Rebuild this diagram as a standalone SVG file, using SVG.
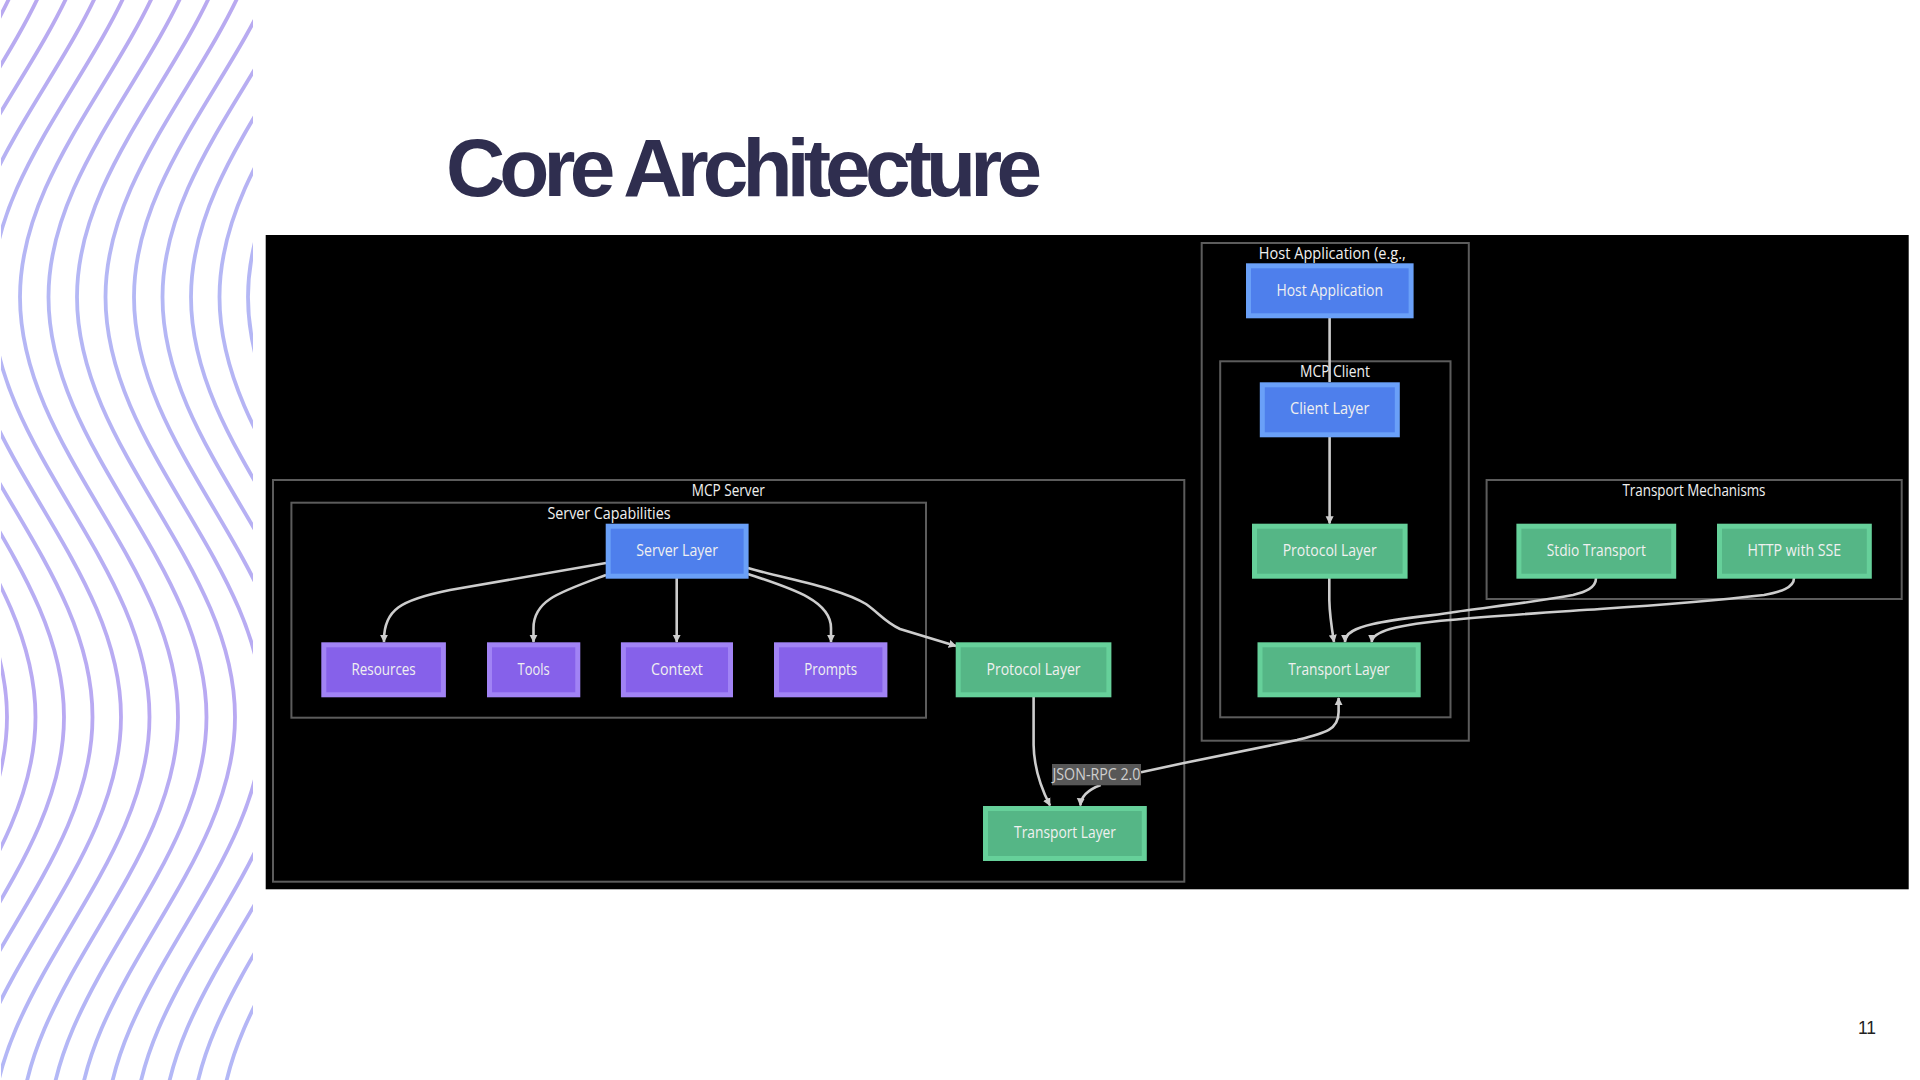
<svg xmlns="http://www.w3.org/2000/svg" xmlns:xlink="http://www.w3.org/1999/xlink" width="1920" height="1080" viewBox="0 0 1920 1080">
<style>
text{font-family:"Open Sans","Noto Sans","DejaVu Sans",sans-serif;font-size:16px;font-weight:500;fill:#f0f0f0;text-anchor:middle}
.frame{fill:none;stroke:#5c5c5c;stroke-width:2}
.edge{fill:none;stroke:#cdcdcd;stroke-width:2.6}
.arrow{marker-end:url(#ah)}
.blue{fill:#4e7fec;stroke:#6aa0f8;stroke-width:5}
.purple{fill:#8661ea;stroke:#a183f5;stroke-width:5}
.green{fill:#55b686;stroke:#66d09a;stroke-width:5}
</style>
<defs>
<linearGradient id="wg" gradientUnits="userSpaceOnUse" x1="0" y1="0" x2="0" y2="1080">
<stop offset="0" stop-color="#b9a9f0"/><stop offset="0.27" stop-color="#b4b8f5"/><stop offset="0.66" stop-color="#b9a9f2"/><stop offset="1" stop-color="#b3b8f6"/>
</linearGradient>
<clipPath id="wc"><rect x="1" y="0" width="252" height="1080"/></clipPath>
<path id="w" fill="none" stroke="url(#wg)" stroke-width="3.8" d="M163 -123C163 30 0 144 0 297C0 450 158 564 158 717C158 870 0 984 0 1137"/>
<marker id="ah" markerUnits="userSpaceOnUse" viewBox="0 0 10 10" refX="9" refY="5" markerWidth="8" markerHeight="9" orient="auto"><path d="M0 0L10 5L0 10Z" fill="#cdcdcd"/></marker>
</defs>
<rect width="1920" height="1080" fill="#fff"/>
<g id="waves" clip-path="url(#wc)">
<use href="#w" x="-151"/><use href="#w" x="-122.5"/><use href="#w" x="-94"/><use href="#w" x="-65.5"/><use href="#w" x="-37"/><use href="#w" x="-8.5"/><use href="#w" x="20"/><use href="#w" x="48.5"/><use href="#w" x="77"/><use href="#w" x="105.5"/><use href="#w" x="134"/><use href="#w" x="162.5"/><use href="#w" x="191"/><use href="#w" x="219.5"/><use href="#w" x="248"/>
</g>
<text id="title" x="446" y="196" style="font-family:'Liberation Sans',Arial,sans-serif;font-weight:700;font-size:82px;fill:#2f2e4f;text-anchor:start;letter-spacing:-5.85px">Core Architecture</text>
<text id="page" x="1867" y="1034" style="font-family:'Liberation Sans',Arial,sans-serif;font-size:17.5px;font-weight:400;fill:#222">11</text>
<rect id="canvas" x="265.7" y="235" width="1643" height="654.3" fill="#000"/>
<g id="frames">
<rect class="frame" x="273" y="480" width="911.3" height="401.7"/>
<rect class="frame" x="291.4" y="502.7" width="634.6" height="215"/>
<rect class="frame" x="1201.7" y="243" width="267.1" height="497.7"/>
<rect class="frame" x="1220.2" y="361.3" width="230.3" height="356"/>
<rect class="frame" x="1486.6" y="480" width="415.1" height="119"/>
<text x="728.3" y="496" textLength="73" lengthAdjust="spacingAndGlyphs">MCP Server</text>
<text x="609" y="519" textLength="123" lengthAdjust="spacingAndGlyphs">Server Capabilities</text>
<text x="1332.3" y="259" textLength="147" lengthAdjust="spacingAndGlyphs">Host Application (e.g.,</text>
<text x="1335" y="377.3" textLength="70" lengthAdjust="spacingAndGlyphs">MCP Client</text>
<text x="1694" y="496" textLength="143" lengthAdjust="spacingAndGlyphs">Transport Mechanisms</text>
</g>
<g id="connectors">
<path class="edge arrow" d="M606 563L450 590C400 600 384 610 384 640L384 642"/>
<path class="edge arrow" d="M606 575C560 592 533.5 600 533.5 628L533.5 642"/>
<path class="edge arrow" d="M676.7 578L676.7 642"/>
<path class="edge arrow" d="M748 574C790 588 831 600 831 628L831 642"/>
<path class="edge arrow" d="M748 568C790 580 840 588 866 604C880 614 885 622 900 629L956 646"/>
<path class="edge arrow" d="M1033.6 697L1033.6 745C1034 770 1042 790 1050 805.5"/>
<path class="edge arrow" d="M1100.7 785C1090 789 1081 795 1080.4 805.5"/>
<path class="edge arrow" d="M1141 772.3L1184 763L1297 740C1325 733 1338.6 730 1338.6 712L1338.6 698"/>
<path class="edge" d="M1329.6 318L1329.6 382"/>
<path class="edge arrow" d="M1329.6 437L1329.6 523.5"/>
<path class="edge arrow" d="M1329.3 578L1329.3 600C1329.6 615 1332 630 1334 642"/>
<path class="edge arrow" d="M1596 578C1596 588 1585 592 1573 595C1530 603 1480 608 1450 612.7C1420 617 1395 619 1373 624C1355 628 1345 633 1345 642"/>
<path class="edge arrow" d="M1794 578C1794 588 1780 592 1764 595C1720 600 1660 605 1600 609C1540 613 1490 616 1450 620C1425 622 1405 625 1390 629C1380 632 1372 636 1371.7 642"/>
</g>
<g id="host-application"><rect class="blue" x="1248.5" y="265.8" width="162.6" height="50"/><text x="1329.7" y="295.5" textLength="106.5" lengthAdjust="spacingAndGlyphs">Host Application</text></g>
<g id="client-layer"><rect class="blue" x="1262.3" y="384.8" width="135" height="50"/><text x="1329.7" y="414" textLength="79.4" lengthAdjust="spacingAndGlyphs">Client Layer</text></g>
<g id="client-protocol"><rect class="green" x="1254.5" y="526.2" width="150.6" height="50"/><text x="1329.7" y="556" textLength="94" lengthAdjust="spacingAndGlyphs">Protocol Layer</text></g>
<g id="client-transport"><rect class="green" x="1260" y="644.8" width="158.2" height="50"/><text x="1339" y="674.5" textLength="101.4" lengthAdjust="spacingAndGlyphs">Transport Layer</text></g>
<g id="stdio"><rect class="green" x="1518.9" y="526.2" width="154.8" height="50"/><text x="1596.3" y="556" textLength="99" lengthAdjust="spacingAndGlyphs">Stdio Transport</text></g>
<g id="http-sse"><rect class="green" x="1719.5" y="526.2" width="149.8" height="50"/><text x="1794.4" y="556" textLength="93.7" lengthAdjust="spacingAndGlyphs">HTTP with SSE</text></g>
<g id="server-layer"><rect class="blue" x="608.2" y="526.2" width="137.9" height="50"/><text x="677.1" y="556" textLength="81.7" lengthAdjust="spacingAndGlyphs">Server Layer</text></g>
<g id="resources"><rect class="purple" x="323.8" y="644.8" width="119.6" height="50"/><text x="383.6" y="674.5" textLength="64.3" lengthAdjust="spacingAndGlyphs">Resources</text></g>
<g id="tools"><rect class="purple" x="489.5" y="644.8" width="88.3" height="50"/><text x="533.6" y="674.5" textLength="32" lengthAdjust="spacingAndGlyphs">Tools</text></g>
<g id="context"><rect class="purple" x="623.4" y="644.8" width="107.1" height="50"/><text x="677" y="674.5" textLength="51.8" lengthAdjust="spacingAndGlyphs">Context</text></g>
<g id="prompts"><rect class="purple" x="776.5" y="644.8" width="108.4" height="50"/><text x="830.7" y="674.5" textLength="53" lengthAdjust="spacingAndGlyphs">Prompts</text></g>
<g id="server-protocol"><rect class="green" x="958.2" y="644.8" width="150.7" height="50"/><text x="1033.5" y="674.5" textLength="94" lengthAdjust="spacingAndGlyphs">Protocol Layer</text></g>
<g id="server-transport"><rect class="green" x="985.5" y="808.5" width="158.8" height="50"/><text x="1065" y="838" textLength="101.8" lengthAdjust="spacingAndGlyphs">Transport Layer</text></g>
<g id="edge-label"><rect x="1052" y="764" width="89" height="21.3" fill="#575757"/><text x="1096.5" y="780" textLength="88" lengthAdjust="spacingAndGlyphs" style="fill:#cfcfcf">JSON-RPC 2.0</text></g>
</svg>
